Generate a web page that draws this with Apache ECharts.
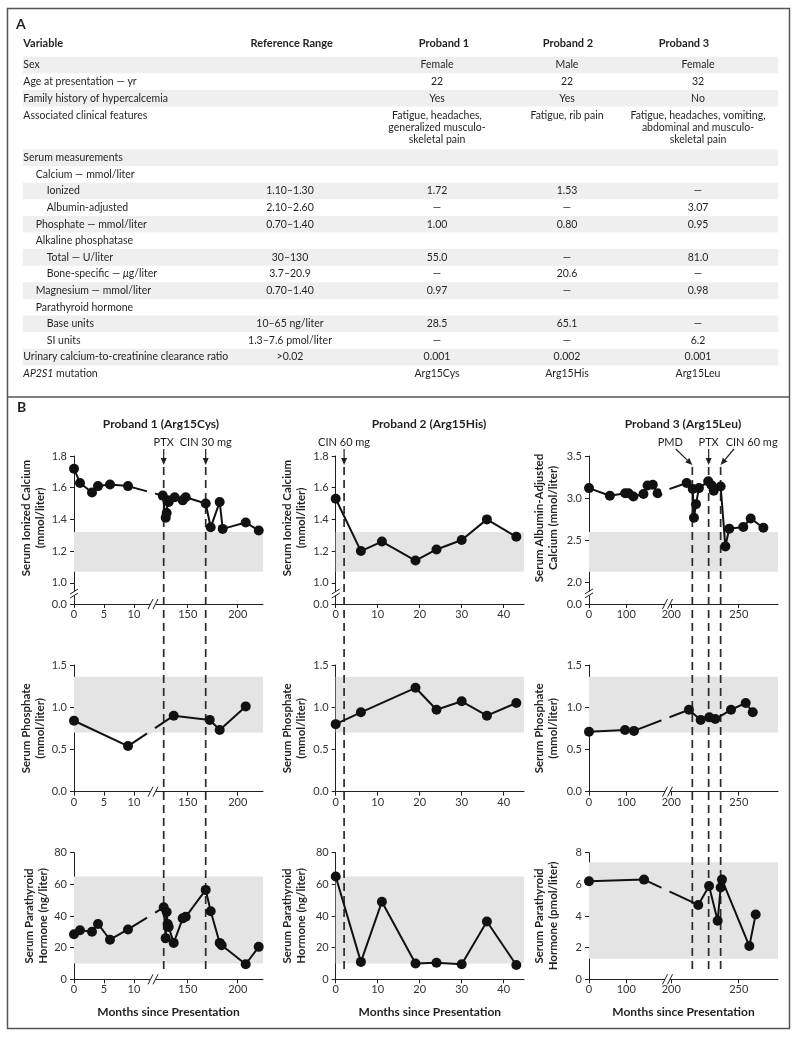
<!DOCTYPE html>
<html>
<head>
<meta charset="utf-8">
<script src="https://cdn.jsdelivr.net/npm/echarts@6.0.0/dist/echarts.min.js"></script>
<style>
html, body { margin: 0; padding: 0; background: #fff; }
#main { width: 800px; height: 1039px; }
</style>
</head>
<body>
<div id="main"></div>
<script>
var FONT = 'Lato';
var INK = '#231f20';

// ---- panel A table ----
var tableHeaders = ['Variable', 'Reference Range', 'Proband 1', 'Proband 2', 'Proband 3'];
var tableVariables = ['Sex', 'Age at presentation — yr', 'Family history of hypercalcemia', 'Associated clinical features',
  'Serum measurements', 'Calcium — mmol/liter', 'Ionized', 'Albumin-adjusted', 'Phosphate — mmol/liter',
  'Alkaline phosphatase', 'Total — U/liter', 'Bone-specific — {i|μ}g/liter', 'Magnesium — mmol/liter',
  'Parathyroid hormone', 'Base units', 'SI units', 'Urinary calcium-to-creatinine clearance ratio', '{i|AP2S1} mutation'];
var tableIndent = [0, 0, 0, 0, 0, 1, 2, 2, 1, 1, 2, 2, 1, 1, 2, 2, 0, 0];
var tableRange = ['', '', '', '', '', '', '1.10–1.30', '2.10–2.60', '0.70–1.40', '', '30–130', '3.7–20.9',
  '0.70–1.40', '', '10–65 ng/liter', '1.3–7.6 pmol/liter', '>0.02', ''];
var tableProband1 = ['Female', '22', 'Yes', 'Fatigue, headaches,\ngeneralized musculo-\nskeletal pain', '', '',
  '1.72', '—', '1.00', '', '55.0', '—', '0.97', '', '28.5', '—', '0.001', 'Arg15Cys'];
var tableProband2 = ['Male', '22', 'Yes', 'Fatigue, rib pain', '', '',
  '1.53', '—', '0.80', '', '—', '20.6', '—', '', '65.1', '—', '0.002', 'Arg15His'];
var tableProband3 = ['Female', '32', 'No', 'Fatigue, headaches, vomiting,\nabdominal and musculo-\nskeletal pain', '', '',
  '—', '3.07', '0.95', '', '81.0', '—', '0.98', '', '—', '6.2', '0.001', 'Arg15Leu'];

// ---- panel B data (months since presentation) ----
var p1CaMonths = [0, 1, 3, 4, 6, 9, 125, 128, 129, 130, 131, 137, 145, 148, 168, 173, 182, 185, 208, 221];
var p1CaValues = [1.72, 1.63, 1.57, 1.61, 1.62, 1.61, 1.55, 1.41, 1.44, 1.52, 1.51, 1.54, 1.52, 1.54, 1.50, 1.35, 1.51, 1.34, 1.38, 1.33];
var p1PhosMonths = [0, 9, 136, 172, 182, 208];
var p1PhosValues = [0.84, 0.54, 0.90, 0.85, 0.73, 1.01];
var p1PthMonths = [0, 1, 3, 4, 6, 9, 126, 128, 129, 130, 131, 136, 145, 148, 168, 173, 182, 184, 208, 221];
var p1PthValues = [28.5, 31, 30, 35, 25, 31.5, 45.5, 26, 42.5, 35, 33, 23, 38.5, 39.5, 56.5, 43, 23, 21.5, 9.5, 20.5];

var p2CaMonths = [0, 6, 11, 19, 24, 30, 36, 43];
var p2CaValues = [1.53, 1.20, 1.26, 1.14, 1.21, 1.27, 1.40, 1.29];
var p2PhosMonths = [0, 6, 19, 24, 30, 36, 43];
var p2PhosValues = [0.80, 0.94, 1.23, 0.97, 1.07, 0.90, 1.05];
var p2PthMonths = [0, 6, 11, 19, 24, 30, 36, 43];
var p2PthValues = [65, 11, 49, 10, 10.5, 9.5, 36.5, 9];

var p3CaMonths = [0, 56, 97, 106, 119, 146, 157, 171, 184, 211.4, 215.9, 216.8, 218.3, 220.5, 227.4, 230, 231.5, 236.6, 240.1, 243, 253.4, 258.9, 268.3];
var p3CaValues = [3.12, 3.03, 3.06, 3.06, 3.02, 3.05, 3.15, 3.16, 3.06, 3.18, 3.11, 2.77, 2.93, 3.12, 3.20, 3.15, 3.09, 3.14, 2.43, 2.64, 2.66, 2.76, 2.65];
var p3PhosMonths = [0, 96.5, 120.6, 213.1, 221.8, 228.2, 232.6, 244.3, 255.2, 260.4];
var p3PhosValues = [0.71, 0.73, 0.72, 0.97, 0.85, 0.88, 0.86, 0.97, 1.05, 0.94];
var p3PthMonths = [0, 147.5, 220, 228, 234.4, 236.6, 237.6, 257.9, 262.6];
var p3PthValues = [6.2, 6.3, 4.7, 5.9, 3.7, 5.8, 6.3, 2.1, 4.1];

// reference ranges drawn as grey bands
var caBand = [1.07, 1.32];
var caAdjBand = [2.13, 2.60];
var phosBand = [0.70, 1.36];
var pthNgBand = [10, 65];
var pthPmolBand = [1.3, 7.4];

// x tick labels and treatment events
var p1XTicks = [0, 5, 10, 150, 200];
var p2XTicks = [0, 10, 20, 30, 40];
var p3XTicks = [0, 100, 200, 250];
var p1EventMonths = [126, 168];
var p1EventLabels = ['PTX', 'CIN 30 mg'];
var p2EventMonths = [2];
var p2EventLabels = ['CIN 60 mg'];
var p3EventMonths = [215.6, 227.7, 236.6];
var p3EventLabels = ['PMD', 'PTX', 'CIN 60 mg'];

var caTicks = [0, 1.0, 1.2, 1.4, 1.6, 1.8];
var caAdjTicks = [0, 2.0, 2.5, 3.0, 3.5];
var phosTicks = [0, 0.5, 1.0, 1.5];
var pthNgTicks = [0, 20, 40, 60, 80];
var pthPmolTicks = [0, 2, 4, 6, 8];

// broken time axes: position in px from the axis origin
var cols = [
  { left: 74, width: 189, ticks: p1XTicks, brk: 80, nameGap: 24,
    map: function (m) { return m <= 13 ? m * 6 : m - 36.3; },
    ev: { months: p1EventMonths, labels: p1EventLabels, labelShift: [0, 0], arrowShift: [0, 0] } },
  { left: 335.7, width: 188.3, ticks: p2XTicks, brk: null, nameGap: 27,
    map: function (m) { return m * 4.2; },
    ev: { months: p2EventMonths, labels: p2EventLabels, labelShift: [0], arrowShift: [0] } },
  { left: 589, width: 189, ticks: p3XTicks, brk: 79.5, nameGap: 29,
    map: function (m) { return m < 199 ? m * 0.373 : 82.3 + (m - 200) * 1.348; },
    ev: { months: p3EventMonths, labels: p3EventLabels, labelShift: [-22, 0, 31], arrowShift: [-16.6, 0, 13.3] } }
];
var rows = [{ top: 456, height: 148 }, { top: 665, height: 126.7 }, { top: 852.7, height: 126.6 }];

var yCa = { min: 0.866, max: 1.8, ticks: caTicks, brk: 0.935, dec: 1, band: caBand };
var yCaAdj = { min: 1.748, max: 3.5, ticks: caAdjTicks, brk: 1.88, dec: 1, band: caAdjBand };
var yPhos = { min: 0, max: 1.5, ticks: phosTicks, brk: null, dec: 1, band: phosBand };
var yPthNg = { min: 0, max: 80, ticks: pthNgTicks, brk: null, dec: 0, band: pthNgBand };
var yPthPmol = { min: 0, max: 8, ticks: pthPmolTicks, brk: null, dec: 0, band: pthPmolBand };

var panels = [
  { col: 0, row: 0, m: p1CaMonths, v: p1CaValues, y: yCa, name: 'Serum Ionized Calcium\n(mmol/liter)' },
  { col: 1, row: 0, m: p2CaMonths, v: p2CaValues, y: yCa, name: 'Serum Ionized Calcium\n(mmol/liter)' },
  { col: 2, row: 0, m: p3CaMonths, v: p3CaValues, y: yCaAdj, name: 'Serum Albumin-Adjusted\nCalcium (mmol/liter)' },
  { col: 0, row: 1, m: p1PhosMonths, v: p1PhosValues, y: yPhos, name: 'Serum Phosphate\n(mmol/liter)' },
  { col: 1, row: 1, m: p2PhosMonths, v: p2PhosValues, y: yPhos, name: 'Serum Phosphate\n(mmol/liter)' },
  { col: 2, row: 1, m: p3PhosMonths, v: p3PhosValues, y: yPhos, name: 'Serum Phosphate\n(mmol/liter)' },
  { col: 0, row: 2, m: p1PthMonths, v: p1PthValues, y: yPthNg, name: 'Serum Parathyroid\nHormone (ng/liter)' },
  { col: 1, row: 2, m: p2PthMonths, v: p2PthValues, y: yPthNg, name: 'Serum Parathyroid\nHormone (ng/liter)' },
  { col: 2, row: 2, m: p3PthMonths, v: p3PthValues, y: yPthPmol, name: 'Serum Parathyroid\nHormone (pmol/liter)' }
];

var grids = [], xAxes = [], yAxes = [], series = [], graphics = [];

function txt(s, x, y, align, va, opts) {
  opts = opts || {};
  var style = {
    text: s, fontSize: opts.size || 10.5, fontFamily: FONT, fontWeight: opts.bold ? 'bold' : 'normal',
    fill: INK, textAlign: align, textVerticalAlign: va, align: align, verticalAlign: va, lineHeight: 12.3
  };
  if (s.indexOf('{') >= 0) {
    style.rich = { i: { fontStyle: 'italic', fontSize: opts.size || 10.5, fontFamily: FONT, fill: INK } };
  }
  return { type: 'text', x: x, y: y, silent: true, style: style };
}

// table
var indentPx = [0, 12.4, 23.4];
var valueCenters = [290, 437, 567, 698];
var headerCenters = [291.7, 444, 568, 684];
graphics.push(txt('A', 16, 24, 'left', 'middle', { bold: true, size: 14 }));
graphics.push(txt(tableHeaders[0], 23.3, 43, 'left', 'middle', { bold: true, size: 11 }));
for (var h = 1; h < tableHeaders.length; h++) {
  graphics.push(txt(tableHeaders[h], headerCenters[h - 1], 43, 'center', 'middle', { bold: true, size: 11 }));
}
var rowY = 56.7;
tableVariables.forEach(function (name, i) {
  var tall = tableProband1[i].indexOf('\n') >= 0;
  var rh = tall ? 43 : 16.6;
  if (i % 2 === 0) {
    graphics.push({ type: 'rect', silent: true, shape: { x: 22.7, y: rowY, width: 755.6, height: rh }, style: { fill: '#efefef' } });
  }
  var ty = tall ? rowY + 2.5 : rowY + rh / 2;
  var va = tall ? 'top' : 'middle';
  graphics.push(txt(name, 23.3 + indentPx[tableIndent[i]], ty, 'left', va));
  [tableRange, tableProband1, tableProband2, tableProband3].forEach(function (arr, k) {
    if (arr[i]) graphics.push(txt(arr[i], valueCenters[k], ty, 'center', va));
  });
  rowY += rh;
});

// frame
graphics.push({ type: 'rect', silent: true, shape: { x: 7.5, y: 8.5, width: 782, height: 1020 }, style: { fill: 'none', stroke: '#555', lineWidth: 1.5 } });
graphics.push({ type: 'line', silent: true, shape: { x1: 7.5, y1: 397, x2: 789.5, y2: 397 }, style: { stroke: '#555', lineWidth: 1.5 } });
graphics.push(txt('B', 17, 407, 'left', 'middle', { bold: true, size: 14 }));
var titles = ['Proband 1 (Arg15Cys)', 'Proband 2 (Arg15His)', 'Proband 3 (Arg15Leu)'];
var titleCenters = [161, 429, 683];
titles.forEach(function (t, k) { graphics.push(txt(t, titleCenters[k], 424, 'center', 'middle', { bold: true, size: 12 })); });

function tickLabel(ticks, map, v, dec) {
  for (var i = 0; i < ticks.length; i++) {
    if (Math.abs(map(ticks[i]) - v) < 1e-6) return ticks[i].toFixed(dec);
  }
  return '';
}

function renderBand(params, api) {
  var cs = params.coordSys;
  var top = api.coord([0, api.value(1)])[1];
  var bot = api.coord([0, api.value(0)])[1];
  return { type: 'rect', shape: { x: cs.x, y: top, width: cs.width, height: bot - top }, style: { fill: '#e4e4e4' } };
}

function renderBreak(params, api) {
  var p = api.coord([api.value(0), api.value(1)]);
  var x = p[0], y = p[1], ls = { stroke: INK, lineWidth: 1 };
  if (api.value(2) === 0) {
    return { type: 'group', children: [
      { type: 'rect', shape: { x: x - 3.5, y: y - 2, width: 5, height: 4 }, style: { fill: '#fff' } },
      { type: 'line', shape: { x1: x - 6, y1: y + 5, x2: x - 1, y2: y - 5 }, style: ls },
      { type: 'line', shape: { x1: x - 1, y1: y + 5, x2: x + 4, y2: y - 5 }, style: ls }
    ] };
  }
  return { type: 'group', children: [
    { type: 'rect', shape: { x: x - 2, y: y - 1.5, width: 4, height: 4 }, style: { fill: '#fff' } },
    { type: 'line', shape: { x1: x - 4, y1: y + 1, x2: x + 4, y2: y - 4 }, style: ls },
    { type: 'line', shape: { x1: x - 4, y1: y + 5, x2: x + 4, y2: y }, style: ls }
  ] };
}

panels.forEach(function (p) {
  var c = cols[p.col], r = rows[p.row], ya = p.y;
  grids.push({ left: c.left, top: r.top, width: c.width, height: r.height, outerBoundsMode: 'none', containLabel: false });
  var gi = grids.length - 1;
  var xVals = c.ticks.map(c.map);
  var yMap = function (t) { return (t === 0 && ya.brk) ? ya.min : t; };
  var yVals = ya.ticks.map(yMap);
  xAxes.push({
    gridIndex: gi, type: 'value', min: 0, max: c.width,
    axisLine: { show: true, onZero: false, lineStyle: { color: INK, width: 1 } },
    axisTick: { show: true, length: 4, lineStyle: { color: INK }, customValues: xVals },
    axisLabel: { color: '#333', fontSize: 11, fontFamily: FONT, margin: 5, customValues: xVals,
      formatter: function (v) { return tickLabel(c.ticks, c.map, v, 0); } },
    splitLine: { show: false },
    name: p.row === 2 ? 'Months since Presentation' : '', nameLocation: 'middle', nameGap: 27,
    nameTextStyle: { fontSize: 12, fontWeight: 'bold', fontFamily: FONT, color: INK }
  });
  yAxes.push({
    gridIndex: gi, type: 'value', min: ya.min, max: ya.max,
    axisLine: { show: true, onZero: false, lineStyle: { color: INK, width: 1 } },
    axisTick: { show: true, length: 4, lineStyle: { color: INK }, customValues: yVals },
    axisLabel: { color: '#333', fontSize: 11, fontFamily: FONT, margin: 7, customValues: yVals,
      formatter: function (v) { return tickLabel(ya.ticks, yMap, v, ya.dec); } },
    splitLine: { show: false },
    name: p.name, nameLocation: 'middle', nameRotate: 90, nameGap: c.nameGap,
    nameTextStyle: { fontSize: 11.5, fontWeight: 'bold', fontFamily: FONT, color: INK, lineHeight: 14,
      padding: p.row === 0 ? [0, 0, 0, 24] : 0 }
  });

  series.push({ type: 'custom', xAxisIndex: gi, yAxisIndex: gi, z: 1, silent: true, clip: false,
    data: [[ya.band[0], ya.band[1]]], renderItem: renderBand });

  var pts = p.m.map(function (m, i) { return [c.map(m), p.v[i]]; });
  series.push({
    type: 'line', xAxisIndex: gi, yAxisIndex: gi, z: 3, silent: true, data: pts,
    symbol: 'circle', symbolSize: 10, showSymbol: true,
    itemStyle: { color: '#111' }, lineStyle: { color: '#111', width: 2 }
  });

  var marks = [];
  if (c.brk !== null) {
    marks.push([c.brk, ya.min, 0]);
    // interrupt the line where it crosses the axis break
    for (var i = 0; i < pts.length - 1; i++) {
      if (pts[i][0] < c.brk && pts[i + 1][0] > c.brk) {
        series.push({ type: 'custom', xAxisIndex: gi, yAxisIndex: gi, z: 4, silent: true, clip: false,
          data: [[pts[i][0], pts[i][1], pts[i + 1][0], pts[i + 1][1], c.brk - 3]],
          renderItem: function (params, api) {
            var a = api.coord([api.value(0), api.value(1)]);
            var b = api.coord([api.value(2), api.value(3)]);
            var bx = api.coord([api.value(4), 0])[0];
            var t1 = (bx - 4 - a[0]) / (b[0] - a[0]), t2 = (bx + 4 - a[0]) / (b[0] - a[0]);
            var tm = (t1 + t2) / 2;
            var vm = api.value(1) + (api.value(3) - api.value(1)) * tm;
            var fill = (vm > ya.band[0] && vm < ya.band[1]) ? '#e4e4e4' : '#fff';
            return { type: 'line', shape: {
              x1: a[0] + (b[0] - a[0]) * t1, y1: a[1] + (b[1] - a[1]) * t1,
              x2: a[0] + (b[0] - a[0]) * t2, y2: a[1] + (b[1] - a[1]) * t2 },
              style: { stroke: fill, lineWidth: 5 } };
          } });
      }
    }
  }
  if (ya.brk) marks.push([0, ya.brk, 1]);
  if (marks.length) {
    series.push({ type: 'custom', xAxisIndex: gi, yAxisIndex: gi, z: 5, silent: true, clip: false,
      data: marks, renderItem: renderBreak });
  }
});

// treatment events: one tall overlay grid per column
cols.forEach(function (c) {
  grids.push({ left: c.left, top: 430, width: c.width, height: 545, outerBoundsMode: 'none', containLabel: false });
  var gi = grids.length - 1;
  xAxes.push({ gridIndex: gi, type: 'value', min: 0, max: c.width, show: false });
  yAxes.push({ gridIndex: gi, type: 'value', min: 0, max: 545, inverse: true, show: false });
  var ev = c.ev;
  var evData = ev.months.map(function (m, i) { return [c.map(m), i]; });
  series.push({ type: 'custom', xAxisIndex: gi, yAxisIndex: gi, z: 2, silent: true, clip: false, data: evData,
    renderItem: function (params, api) {
      var d = api.value(0);
      var a = api.coord([d, 37]), b = api.coord([d, 542]);
      return { type: 'line', shape: { x1: a[0], y1: a[1], x2: b[0], y2: b[1] },
        style: { stroke: '#2a2a2a', lineWidth: 1.7, lineDash: [8, 5] } };
    } });
  series.push({ type: 'custom', xAxisIndex: gi, yAxisIndex: gi, z: 6, silent: true, clip: false, data: evData,
    renderItem: function (params, api) {
      var d = api.value(0), i = api.value(1);
      var tip = api.coord([d, 35]), tail = api.coord([d + ev.arrowShift[i], 19]);
      var lab = api.coord([d + ev.labelShift[i], 12]);
      var dx = tip[0] - tail[0], dy = tip[1] - tail[1], L = Math.sqrt(dx * dx + dy * dy);
      var ux = dx / L, uy = dy / L, bx = tip[0] - ux * 7, by = tip[1] - uy * 7;
      return { type: 'group', children: [
        { type: 'line', shape: { x1: tail[0], y1: tail[1], x2: bx, y2: by }, style: { stroke: INK, lineWidth: 1.2 } },
        { type: 'polygon', shape: { points: [tip, [bx - uy * 3, by + ux * 3], [bx + uy * 3, by - ux * 3]] }, style: { fill: INK } },
        { type: 'text', x: lab[0], y: lab[1], style: { text: ev.labels[i], fontSize: 11, fontFamily: FONT, fill: INK,
          textAlign: 'center', textVerticalAlign: 'middle', align: 'center', verticalAlign: 'middle' } }
      ] };
    } });
});

var chart = echarts.init(document.getElementById('main'));
chart.setOption({
  animation: false,
  backgroundColor: '#fff',
  textStyle: { fontFamily: FONT },
  grid: grids,
  xAxis: xAxes,
  yAxis: yAxes,
  series: series,
  graphic: { elements: graphics }
});
</script>
</body>
</html>
